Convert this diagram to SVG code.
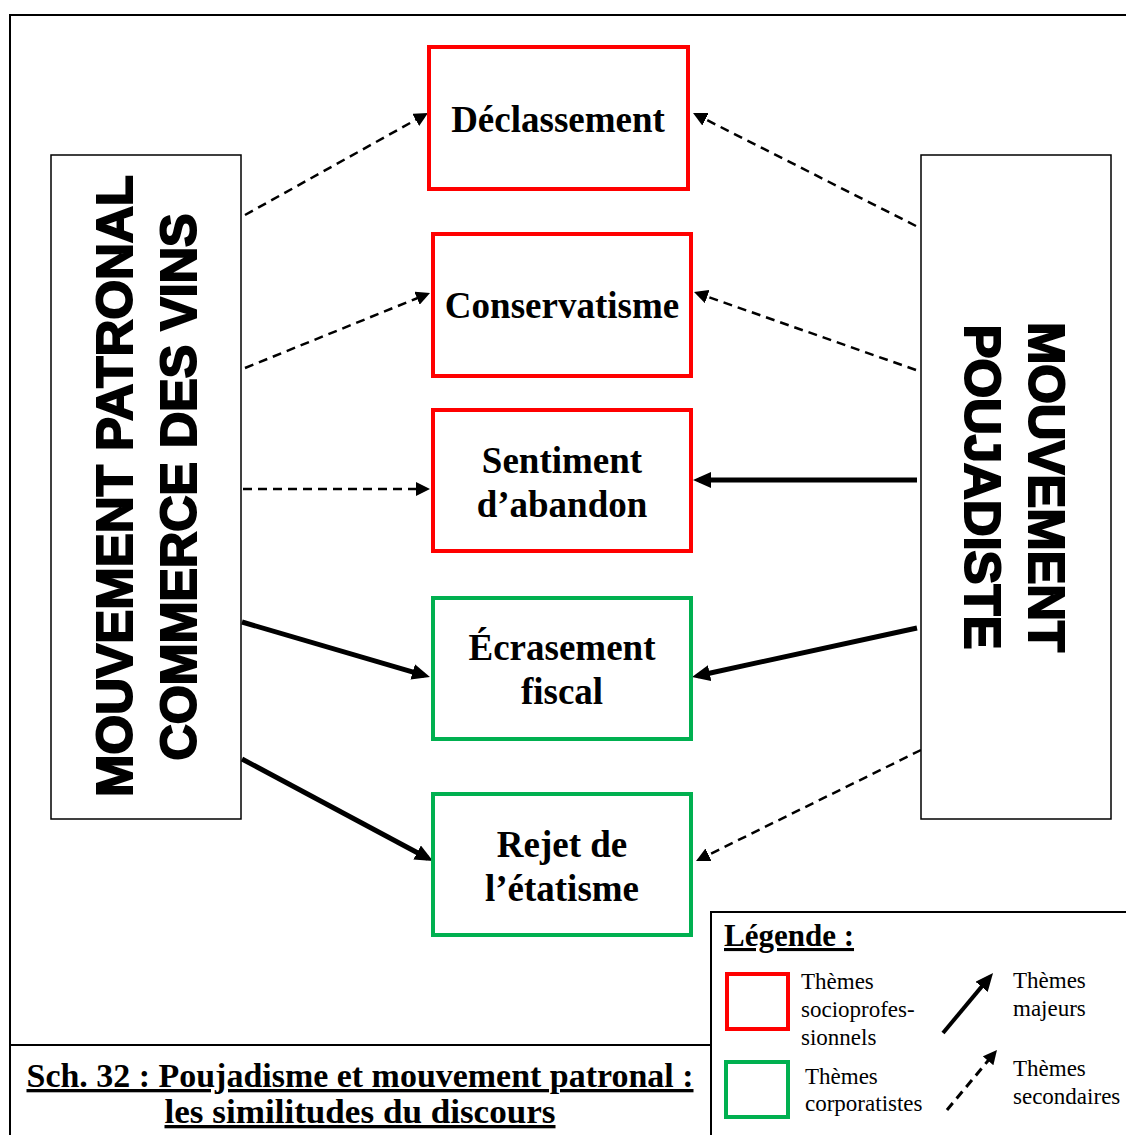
<svg xmlns="http://www.w3.org/2000/svg" width="1126" height="1135" viewBox="0 0 1126 1135">
<style>
.frame{fill:none;stroke:#000;stroke-width:2}
.side{fill:#fff;stroke:#000;stroke-width:1.5}
.red{fill:#fff;stroke:#ff0000;stroke-width:4}
.green{fill:#fff;stroke:#00b050;stroke-width:4}
.lbl{font-family:"Liberation Serif","Times New Roman",serif;font-weight:bold;font-size:37px;text-anchor:middle;fill:#000}
.vert{font-family:"Liberation Sans",Arial,sans-serif;font-weight:bold;font-size:50px;text-anchor:middle;fill:#000;stroke:#000;stroke-width:2}
.solid{fill:none;stroke:#000;stroke-width:5}
.dash{fill:none;stroke:#000;stroke-width:2.5;stroke-dasharray:9 6}
.leg{font-family:"Liberation Serif","Times New Roman",serif;font-size:23px;fill:#000}
.cap{font-family:"Liberation Serif","Times New Roman",serif;font-weight:bold;font-size:33px;text-anchor:middle;text-decoration:underline;fill:#000}
</style>
<defs>
<marker id="headS" markerUnits="userSpaceOnUse" viewBox="0 0 18 16" markerWidth="18" markerHeight="16" refX="12" refY="8" orient="auto">
<path d="M0,0 L18,8 L0,16 z" fill="#000"/>
</marker>
<marker id="headD" markerUnits="userSpaceOnUse" viewBox="0 0 14 14" markerWidth="14" markerHeight="14" refX="10" refY="7" orient="auto">
<path d="M0,0 L14,7 L0,14 z" fill="#000"/>
</marker>
</defs>
<rect width="1126" height="1135" fill="#fff"/>
<g id="frame">
<path class="frame" d="M10,1135 V15 H1126"/>
<path class="frame" d="M10,1045 H711"/>
<path class="frame" d="M711,1135 V912 H1126"/>
</g>
<g id="connectors">
<line class="dash" x1="245" y1="215" x2="424.5" y2="115" marker-end="url(#headD)"/>
<line class="dash" x1="916" y1="226" x2="696.6" y2="114.8" marker-end="url(#headD)"/>
<line class="dash" x1="245" y1="368" x2="426.3" y2="294.5" marker-end="url(#headD)"/>
<line class="dash" x1="916" y1="370" x2="697.8" y2="293.3" marker-end="url(#headD)"/>
<line class="dash" x1="243" y1="489" x2="426" y2="489" marker-end="url(#headD)"/>
<line class="solid" x1="917" y1="480" x2="699" y2="480" marker-end="url(#headS)"/>
<line class="solid" x1="242" y1="622" x2="424.2" y2="675.3" marker-end="url(#headS)"/>
<line class="solid" x1="917" y1="628" x2="697.9" y2="675.7" marker-end="url(#headS)"/>
<line class="solid" x1="242" y1="759" x2="427.7" y2="858.2" marker-end="url(#headS)"/>
<line class="dash" x1="921" y1="750" x2="699.6" y2="859.2" marker-end="url(#headD)"/>
</g>
<g id="patronal">
<rect class="side" x="51" y="155" width="190" height="664"/>
<text class="vert" transform="translate(132,486) rotate(-90)" textLength="622" lengthAdjust="spacingAndGlyphs">MOUVEMENT PATRONAL</text>
<text class="vert" transform="translate(196,487) rotate(-90)" textLength="547" lengthAdjust="spacingAndGlyphs">COMMERCE DES VINS</text>
</g>
<g id="poujadiste">
<rect class="side" x="921" y="155" width="190" height="664"/>
<text class="vert" transform="translate(1029,487) rotate(90)" textLength="330" lengthAdjust="spacingAndGlyphs">MOUVEMENT</text>
<text class="vert" transform="translate(965,487) rotate(90)" textLength="325" lengthAdjust="spacingAndGlyphs">POUJADISTE</text>
</g>
<g id="declassement">
<rect class="red" x="429" y="47" width="259" height="142"/>
<text class="lbl" x="558" y="132">Déclassement</text>
</g>
<g id="conservatisme">
<rect class="red" x="433" y="234" width="258" height="142"/>
<text class="lbl" x="562" y="318">Conservatisme</text>
</g>
<g id="sentiment">
<rect class="red" x="433" y="410" width="258" height="141"/>
<text class="lbl" x="562" y="473">Sentiment</text>
<text class="lbl" x="562" y="517">d’abandon</text>
</g>
<g id="ecrasement">
<rect class="green" x="433" y="598" width="258" height="141"/>
<text class="lbl" x="562" y="660">Écrasement</text>
<text class="lbl" x="562" y="704">fiscal</text>
</g>
<g id="rejet">
<rect class="green" x="433" y="794" width="258" height="141"/>
<text class="lbl" x="562" y="857">Rejet de</text>
<text class="lbl" x="562" y="901">l’étatisme</text>
</g>
<g id="legende">
<text x="724" y="946" style="font-family:'Liberation Serif','Times New Roman',serif;font-weight:bold;font-size:31px;text-decoration:underline">Légende :</text>
<rect class="red" x="727" y="974" width="61" height="55"/>
<text class="leg" x="801" y="989">Thèmes</text>
<text class="leg" x="801" y="1017">socioprofes-</text>
<text class="leg" x="801" y="1045">sionnels</text>
<rect class="green" x="726" y="1062" width="62" height="55"/>
<text class="leg" x="805" y="1084">Thèmes</text>
<text class="leg" x="805" y="1111">corporatistes</text>
<line class="solid" style="stroke-width:4" x1="943" y1="1033" x2="989.2" y2="977.6" marker-end="url(#headS)"/>
<line class="dash" style="stroke-width:3" x1="947" y1="1110" x2="994.4" y2="1053.1" marker-end="url(#headD)"/>
<text class="leg" x="1013" y="988">Thèmes</text>
<text class="leg" x="1013" y="1016">majeurs</text>
<text class="leg" x="1013" y="1076">Thèmes</text>
<text class="leg" x="1013" y="1104">secondaires</text>
</g>
<g id="caption">
<text class="cap" x="360" y="1087" textLength="667" lengthAdjust="spacingAndGlyphs">Sch. 32 : Poujadisme et mouvement patronal :</text>
<text class="cap" x="360" y="1123" textLength="391" lengthAdjust="spacingAndGlyphs">les similitudes du discours</text>
</g>
</svg>
